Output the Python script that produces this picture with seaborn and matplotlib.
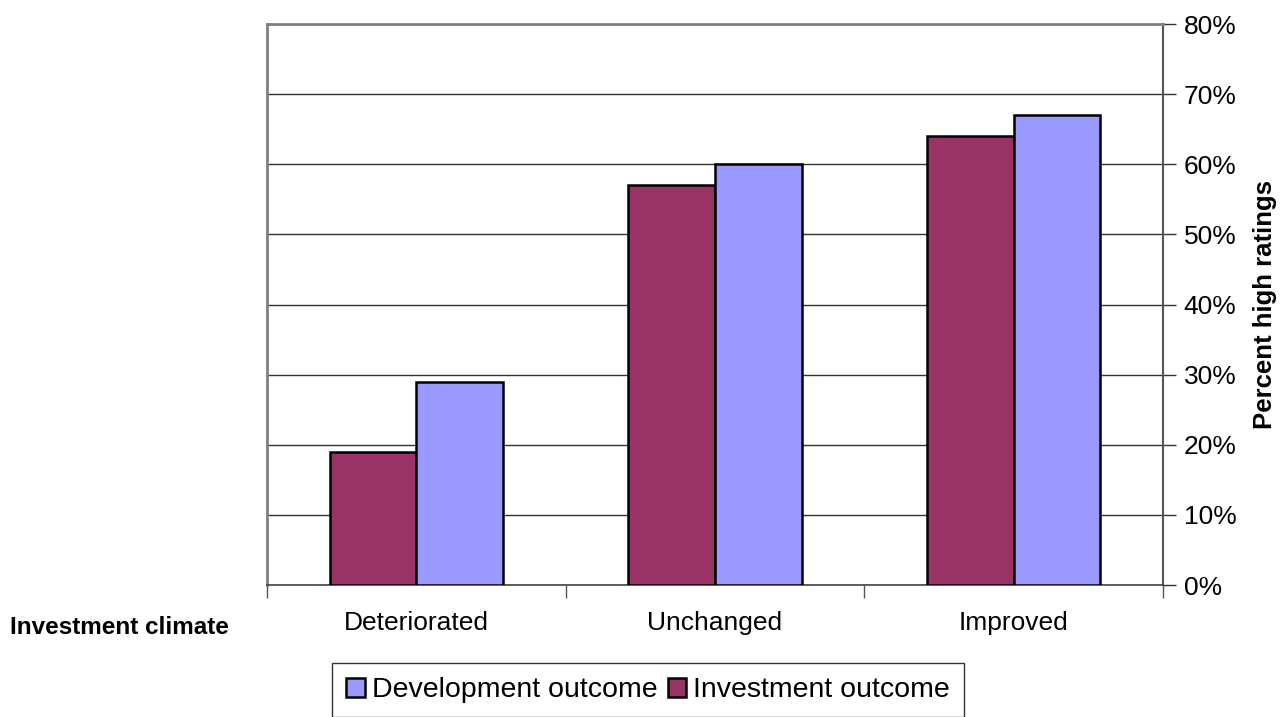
import numpy as np
import pandas as pd
import matplotlib
matplotlib.use("Agg")
import matplotlib.pyplot as plt
import seaborn as sns
from matplotlib.ticker import PercentFormatter, FixedLocator

# Data
categories = ["Deteriorated", "Unchanged", "Improved"]
investment_outcome = [19, 57, 64]
development_outcome = [29, 60, 67]
series_names = ["Investment outcome", "Development outcome"]
y_ticks = [0, 10, 20, 30, 40, 50, 60, 70, 80]

df = pd.DataFrame({
    "climate": categories * 2,
    "series": [series_names[0]] * 3 + [series_names[1]] * 3,
    "value": investment_outcome + development_outcome,
})

sns.set_theme(style="white")
plt.rcParams["font.family"] = ["Liberation Sans", "DejaVu Sans"]
plt.rcParams["text.color"] = "black"
plt.rcParams["xtick.color"] = "black"
plt.rcParams["ytick.color"] = "black"
plt.rcParams["axes.labelcolor"] = "black"

fig = plt.figure(figsize=(12.81, 7.17), dpi=100)
ax = fig.add_axes([0.2084, 0.1841, 0.6995, 0.7824])

palette = {"Investment outcome": "#993366", "Development outcome": "#9999FF"}
sns.barplot(data=df, x="climate", y="value", hue="series", order=categories,
            hue_order=series_names, palette=palette, width=0.58,
            edgecolor="black", linewidth=1.8, saturation=1, ax=ax, zorder=3)

ax.set_ylim(0, 80)
ax.set_xlim(-0.5, 2.5)
ax.yaxis.set_major_locator(FixedLocator(y_ticks))
ax.yaxis.set_major_formatter(PercentFormatter(decimals=0))
ax.yaxis.tick_right()
ax.yaxis.set_label_position("right")
ax.grid(axis="y", color="#333333", linewidth=1.0, zorder=0)
ax.set_axisbelow(True)

ax.tick_params(axis="y", which="major", direction="out", length=9, width=1,
               color="#333333", labelsize=19, pad=6, right=True, left=False)
ax.tick_params(axis="x", which="major", length=0, labelsize=19, pad=19)
ax.xaxis.set_minor_locator(FixedLocator([-0.5, 0.5, 1.5, 2.5]))
ax.tick_params(axis="x", which="minor", direction="out", length=9, width=1,
               color="#555555", bottom=True)

for side in ["left", "top"]:
    ax.spines[side].set_color("#808080")
    ax.spines[side].set_linewidth(2)
ax.spines["right"].set_color("#555555")
ax.spines["right"].set_linewidth(1.5)
ax.spines["bottom"].set_color("#444444")
ax.spines["bottom"].set_linewidth(1.2)

ax.set_xlabel("")
ax.set_ylabel("Percent high ratings", fontsize=18.5, fontweight="bold", labelpad=12)

fig.text(10 / 1281, 1 - 627 / 717, "Investment climate", fontsize=17.5,
         fontweight="bold", ha="left", va="center")

handles, labels = ax.get_legend_handles_labels()
ax.get_legend().remove()
order = [labels.index("Development outcome"), labels.index("Investment outcome")]
leg = fig.legend([handles[i] for i in order], [labels[i] for i in order],
                 loc="upper center", bbox_to_anchor=(0.506, 1 - 663 / 717),
                 ncol=2, fontsize=20.5, frameon=True, fancybox=False,
                 handlelength=0.65, handleheight=0.65, handletextpad=0.25,
                 columnspacing=0.35, borderpad=0.5, borderaxespad=0)
leg.get_frame().set_edgecolor("black")
leg.get_frame().set_linewidth(1.0)

fig.savefig("out.png", dpi=100)
